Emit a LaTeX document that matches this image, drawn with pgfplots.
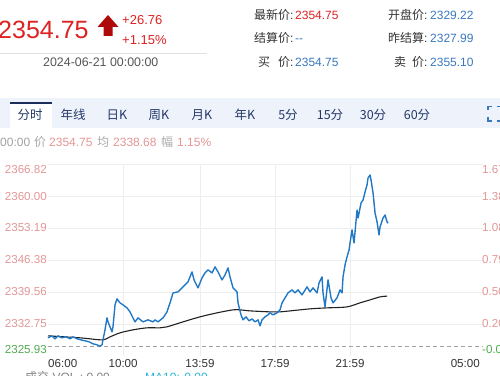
\documentclass[border=0pt]{standalone}
\usepackage{pgfplots}
\pgfplotsset{compat=1.18}
\usepackage{fontspec}
\setmainfont{Liberation Sans}
\newfontfamily\cjk{Noto Sans CJK SC}
\definecolor{upred}{RGB}{221,34,34}
\definecolor{arrowred}{RGB}{175,10,10}
\definecolor{valblue}{RGB}{58,120,190}
\definecolor{txtdark}{RGB}{51,51,51}
\definecolor{tabbg}{RGB}{238,243,251}
\definecolor{tabtxt}{RGB}{35,55,105}
\definecolor{tabline}{RGB}{28,45,90}
\definecolor{pinklab}{RGB}{226,150,150}
\definecolor{greenlab}{RGB}{80,170,80}
\definecolor{lineblue}{RGB}{33,120,196}
\definecolor{gridc}{RGB}{238,238,238}
\definecolor{cyanlab}{RGB}{41,182,214}
\newcommand{\fs}[1]{\fontsize{#1}{#1}\selectfont}
\begin{document}
\begin{tikzpicture}[x=1pt,y=1pt]
\useasboundingbox (0,0) rectangle (500,375);
% ---- header left
\node[anchor=base west,inner sep=0,text=upred] at (-2,336.5) {\fs{25}2354.75};
\fill[arrowred] (108,360) -- (118.5,348) -- (112.5,348) -- (112.5,339) -- (103.5,339) -- (103.5,348) -- (97.5,348) -- cycle;
\node[anchor=base west,inner sep=0,text=upred] at (122,350.5) {\fs{13}+26.76};
\node[anchor=base west,inner sep=0,text=upred] at (122,330) {\fs{13}+1.15\%};
\draw[color={rgb,255:red,225;green,225;blue,225},line width=0.8pt] (0,322) -- (207,322);
\node[anchor=base west,inner sep=0,text={rgb,255:red,85;green,85;blue,85}] at (43,308) {\fs{12.4}2024-06-21 00:00:00};
% ---- header right
\node[anchor=base west,inner sep=0,text=txtdark] at (254,355.5) {\fs{12}{\cjk 最新价}:};
\node[anchor=base west,inner sep=0,text=upred] at (295,355.5) {\fs{12}2354.75};
\node[anchor=base west,inner sep=0,text=txtdark] at (388,355.5) {\fs{12}{\cjk 开盘价}:};
\node[anchor=base west,inner sep=0,text=valblue] at (430,355.5) {\fs{12}2329.22};
\node[anchor=base west,inner sep=0,text=txtdark] at (254,332) {\fs{12}{\cjk 结算价}:};
\node[anchor=base west,inner sep=0,text=valblue] at (295,332) {\fs{12}{-}{-}};
\node[anchor=base west,inner sep=0,text=txtdark] at (388,332) {\fs{12}{\cjk 昨结算}:};
\node[anchor=base west,inner sep=0,text=valblue] at (430,332) {\fs{12}2327.99};
\node[anchor=base west,inner sep=0,text=txtdark] at (258,308.5) {\fs{12}{\cjk 买}};
\node[anchor=base west,inner sep=0,text=txtdark] at (278,308.5) {\fs{12}{\cjk 价}:};
\node[anchor=base west,inner sep=0,text=valblue] at (295,308.5) {\fs{12}2354.75};
\node[anchor=base west,inner sep=0,text=txtdark] at (394,308.5) {\fs{12}{\cjk 卖}};
\node[anchor=base west,inner sep=0,text=txtdark] at (412,308.5) {\fs{12}{\cjk 价}:};
\node[anchor=base west,inner sep=0,text=valblue] at (430,308.5) {\fs{12}2355.10};
% ---- tab bar
\fill[tabbg] (0,247) rectangle (500,277);
\fill[white] (10,247) rectangle (52,272);
\draw[tabline,line width=1.5pt] (10,272) -- (52,272);
\foreach \xx/\lab in {30/分时,73/年线,117/日K,159/周K,202/月K,245/年K,288/5分,330/15分,373/30分,417/60分}{
  \node[anchor=base,inner sep=0,text=tabtxt] at (\xx,255) {\fs{12.5}\cjk \lab};
}
\draw[valblue,line width=1.4pt] (492,268.5) -- (488,268.5) -- (488,264.5);
\draw[valblue,line width=1.4pt] (488,258) -- (488,254) -- (492,254);
\draw[valblue,line width=1.4pt] (497,268.5) -- (500,268.5);
\draw[valblue,line width=1.4pt] (497,254) -- (500,254);
% ---- info line
\node[anchor=base west,inner sep=0,text={rgb,255:red,160;green,160;blue,160}] at (0,228) {\fs{12}00:00};
\node[anchor=base west,inner sep=0,text={rgb,255:red,170;green,170;blue,170}] at (34,228) {\fs{12}\cjk 价};
\node[anchor=base west,inner sep=0,text=pinklab] at (49,228) {\fs{12}2354.75};
\node[anchor=base west,inner sep=0,text={rgb,255:red,170;green,170;blue,170}] at (97,228) {\fs{12}\cjk 均};
\node[anchor=base west,inner sep=0,text=pinklab] at (113,228) {\fs{12}2338.68};
\node[anchor=base west,inner sep=0,text={rgb,255:red,170;green,170;blue,170}] at (161,228) {\fs{12}\cjk 幅};
\node[anchor=base west,inner sep=0,text=pinklab] at (177,228) {\fs{12}1.15\%};
% ---- bottom cut text
\node[anchor=base west,inner sep=0,text={rgb,255:red,130;green,130;blue,130}] at (25,-6) {\fs{12}{\cjk 成交} VOL : 0.00};
\node[anchor=base west,inner sep=0,text=cyanlab] at (145,-6) {\fs{12}MA10: 0.00};
% ---- chart
\begin{axis}[
  at={(48pt,19pt)}, anchor=south west,
  width=435pt, height=192pt, scale only axis,
  xmin=0, xmax=23.16, ymin=2325.93, ymax=2366.82,
  axis line style={draw=none}, tick style={draw=none},
  xtick={4,8.09,12.09,16.08},
  ytick={2332.75,2339.56,2346.38,2353.19,2360.00,2366.82},
  xticklabels={}, yticklabels={},
  grid=major, major grid style={color=gridc,line width=0.6pt},
  clip=false,
]
\addplot[color={rgb,255:red,160;green,160;blue,160},line width=0.6pt,dash pattern=on 4pt off 3pt] coordinates {(0,2327.99) (23.16,2327.99)};
\addplot[color={rgb,255:red,34;green,34;blue,34},line width=1.1pt,smooth,tension=0.5] coordinates {
(0.000,2330.22) (1.704,2329.80) (2.875,2329.37) (3.301,2330.01) (3.834,2330.86)
(4.526,2331.50) (5.272,2331.93) (5.964,2331.93) (6.337,2332.14) (7.188,2333.20)
(8.094,2334.27) (8.999,2335.12) (9.851,2335.76) (10.224,2335.76) (10.756,2335.54)
(11.821,2335.33) (12.354,2335.33) (13.951,2335.97) (14.856,2336.18) (15.921,2336.39)
(16.613,2337.25) (17.146,2337.88) (17.678,2338.52) (18.051,2338.68)
};
\addplot[color=lineblue,line width=1.4pt,line join=round] coordinates {
(0.000,2329.80) (0.213,2330.22) (0.373,2329.59) (0.532,2330.22) (0.745,2329.80)
(0.958,2330.01) (1.171,2329.59) (1.331,2330.01) (1.544,2329.59) (1.757,2329.37)
(1.970,2329.16) (2.183,2328.95) (2.396,2328.52) (2.609,2328.31) (2.769,2328.00)
(2.875,2328.31) (3.035,2331.50) (3.142,2334.05) (3.195,2333.20) (3.301,2332.14)
(3.408,2331.08) (3.461,2332.14) (3.568,2336.82) (3.674,2338.10) (3.834,2337.25)
(3.994,2336.82) (4.207,2336.18) (4.366,2335.33) (4.633,2333.20) (4.792,2334.05)
(5.059,2333.20) (5.325,2333.63) (5.591,2333.20) (5.698,2333.63) (5.857,2333.20)
(6.124,2334.05) (6.337,2335.33) (6.496,2337.25) (6.656,2339.37) (6.922,2339.59)
(7.188,2340.65) (7.455,2341.71) (7.668,2343.84) (7.774,2342.14) (7.987,2340.44)
(8.200,2342.56) (8.360,2343.63) (8.520,2344.27) (8.733,2343.63) (8.892,2344.91)
(9.052,2343.84) (9.265,2342.14) (9.425,2343.20) (9.585,2344.69) (9.691,2342.78)
(9.851,2340.44) (10.064,2339.59) (10.117,2337.25) (10.277,2334.69) (10.383,2333.63)
(10.543,2334.27) (10.703,2333.42) (10.863,2333.84) (11.022,2333.20) (11.182,2333.63)
(11.289,2332.35) (11.395,2333.63) (11.555,2334.27) (11.715,2334.69) (11.821,2335.12)
(11.981,2334.69) (12.194,2335.12) (12.354,2335.76) (12.460,2337.25) (12.620,2338.31)
(12.780,2339.37) (12.993,2340.01) (13.152,2339.37) (13.312,2340.01) (13.525,2338.95)
(13.791,2340.65) (13.951,2339.59) (14.111,2340.44) (14.324,2339.37) (14.430,2341.50)
(14.590,2342.78) (14.643,2339.37) (14.750,2336.39) (14.909,2342.14) (15.069,2338.31)
(15.176,2337.25) (15.389,2338.31) (15.548,2340.01) (15.655,2339.37) (15.708,2342.78)
(15.815,2345.33) (15.921,2347.03) (16.028,2348.52) (16.081,2350.01) (16.187,2352.78)
(16.294,2350.01) (16.454,2357.03) (16.507,2355.33) (16.667,2358.52) (16.773,2359.16)
(16.880,2360.86) (16.986,2362.35) (17.039,2363.84) (17.146,2364.48) (17.199,2363.42)
(17.306,2360.65) (17.412,2356.39) (17.519,2354.48) (17.625,2351.71) (17.678,2353.42)
(17.838,2355.33) (17.945,2355.97) (18.051,2354.48) (18.104,2354.20)
};
% y tick labels left
\node[anchor=north east,inner sep=0,xshift=-1pt,yshift=-1.5pt,text=pinklab] at (axis cs:0,2366.82) {\fs{11.6}2366.82};
\node[anchor=east,inner sep=0,xshift=-1pt,text=pinklab] at (axis cs:0,2360.00) {\fs{11.6}2360.00};
\node[anchor=east,inner sep=0,xshift=-1pt,text=pinklab] at (axis cs:0,2353.19) {\fs{11.6}2353.19};
\node[anchor=east,inner sep=0,xshift=-1pt,text=pinklab] at (axis cs:0,2346.38) {\fs{11.6}2346.38};
\node[anchor=east,inner sep=0,xshift=-1pt,text=pinklab] at (axis cs:0,2339.56) {\fs{11.6}2339.56};
\node[anchor=east,inner sep=0,xshift=-1pt,text=pinklab] at (axis cs:0,2332.75) {\fs{11.6}2332.75};
\node[anchor=south east,inner sep=0,xshift=-1pt,yshift=2pt,text=greenlab] at (axis cs:0,2325.93) {\fs{11.6}2325.93};
% y tick labels right
\node[anchor=north west,inner sep=0,xshift=-1pt,yshift=-1.5pt,text=pinklab] at (axis cs:23.16,2366.82) {\fs{11.6}1.67\%};
\node[anchor=west,inner sep=0,xshift=-1pt,text=pinklab] at (axis cs:23.16,2360.00) {\fs{11.6}1.38\%};
\node[anchor=west,inner sep=0,xshift=-1pt,text=pinklab] at (axis cs:23.16,2353.19) {\fs{11.6}1.08\%};
\node[anchor=west,inner sep=0,xshift=-1pt,text=pinklab] at (axis cs:23.16,2346.38) {\fs{11.6}0.79\%};
\node[anchor=west,inner sep=0,xshift=-1pt,text=pinklab] at (axis cs:23.16,2339.56) {\fs{11.6}0.50\%};
\node[anchor=west,inner sep=0,xshift=-1pt,text=pinklab] at (axis cs:23.16,2332.75) {\fs{11.6}0.20\%};
\node[anchor=south west,inner sep=0,xshift=-1pt,yshift=2pt,text=greenlab] at (axis cs:23.16,2325.93) {\fs{11.6}-0.09\%};
% x tick labels
\node[anchor=north west,inner sep=0,yshift=-3pt,text=txtdark] at (axis cs:0,2325.93) {\fs{11.6}06:00};
\node[anchor=north,inner sep=0,yshift=-3pt,text=txtdark] at (axis cs:4,2325.93) {\fs{11.6}10:00};
\node[anchor=north,inner sep=0,yshift=-3pt,text=txtdark] at (axis cs:8.09,2325.93) {\fs{11.6}13:59};
\node[anchor=north,inner sep=0,yshift=-3pt,text=txtdark] at (axis cs:12.09,2325.93) {\fs{11.6}17:59};
\node[anchor=north,inner sep=0,yshift=-3pt,text=txtdark] at (axis cs:16.08,2325.93) {\fs{11.6}21:59};
\node[anchor=north east,inner sep=0,xshift=-3pt,yshift=-3pt,text=txtdark] at (axis cs:23.16,2325.93) {\fs{11.6}05:00};
\end{axis}
\end{tikzpicture}
\end{document}
